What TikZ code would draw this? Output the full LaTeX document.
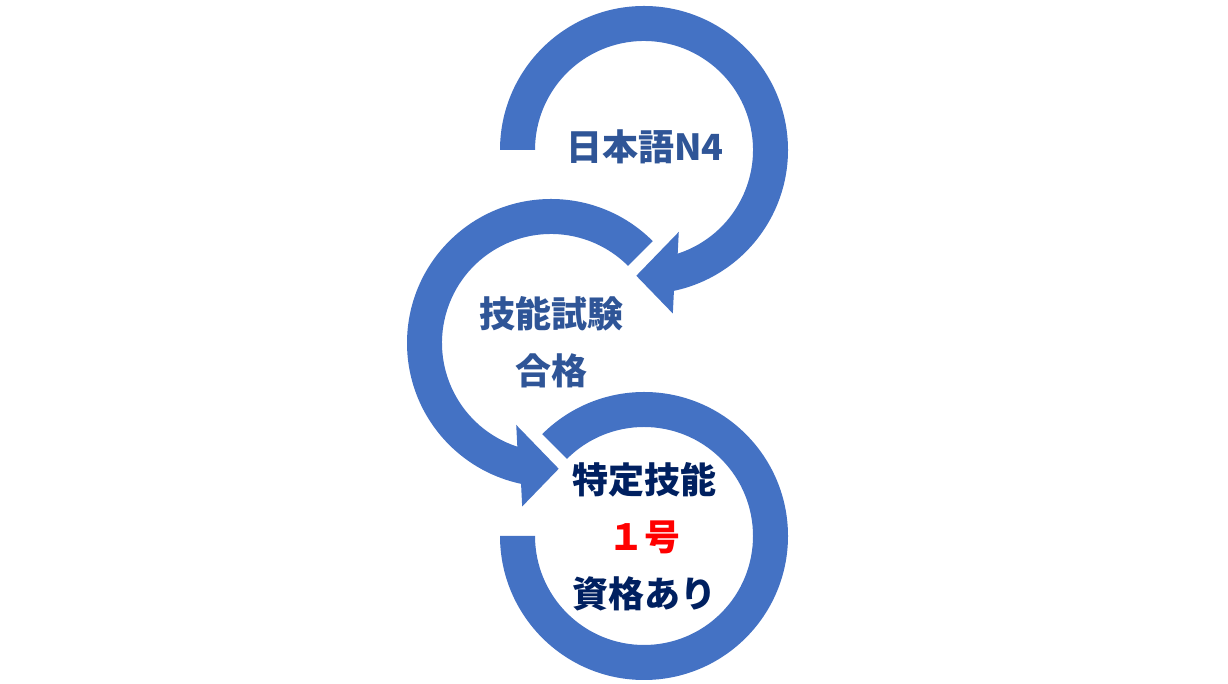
\documentclass[tikz,border=0pt]{standalone}
\usepackage{fontspec}
\newfontfamily\jpfont{Noto Sans CJK JP}
\usepackage{tikz}
\usetikzlibrary{positioning}
\definecolor{ringblue}{HTML}{4472C4}
\definecolor{textblue}{HTML}{2F5597}
\definecolor{textnavy}{HTML}{002060}
\definecolor{textred}{HTML}{FF0000}

\begin{document}
\begin{tikzpicture}
  [x=1pt,y=1pt,
 ring/.style={
  fill=ringblue,
  draw=none},
 stage/.style={
  inner sep=0pt,
  align=center,
  font=\jpfont\bfseries\fontsize{36}{57}\selectfont}]
\useasboundingbox (0,0) rectangle (1228,684);
\coordinate (c1) at (644,534);
\coordinate (c2) at (551,341);
\coordinate (c3) at (644,148);
% top ring, arrow into the middle ring
\fill[ring, shift={(c1)}] (180:144) arc[start angle=180, end angle=-78, radius=144]
  -- (-80:166) -- (-93.5:126) -- (-67:89) -- (-72:109)
  arc[start angle=-72, end angle=180, radius=109] -- cycle;
% middle ring, arrow into the bottom ring
\fill[ring, shift={(c2)}] (45:144) arc[start angle=45, end angle=258, radius=144]
  -- (260:166) -- (273.5:126) -- (247:89) -- (252:109)
  arc[start angle=252, end angle=45, radius=109] -- cycle;
% bottom ring
\fill[ring, shift={(c3)}] (180:144) arc[start angle=180, end angle=495, radius=144]
  -- (135:109) arc[start angle=135, end angle=-180, radius=109] -- cycle;
\node (n4) [stage, text=textblue] at (645,537) {日本語N4};
\node (exam) [stage, text=textblue] at (551,342) {技能試験\\合格};
\node (tokutei) [stage, text=textnavy] at (644,147) {特定技能\\{\color{textred}１号}\\資格あり};
\end{tikzpicture}
\end{document}
